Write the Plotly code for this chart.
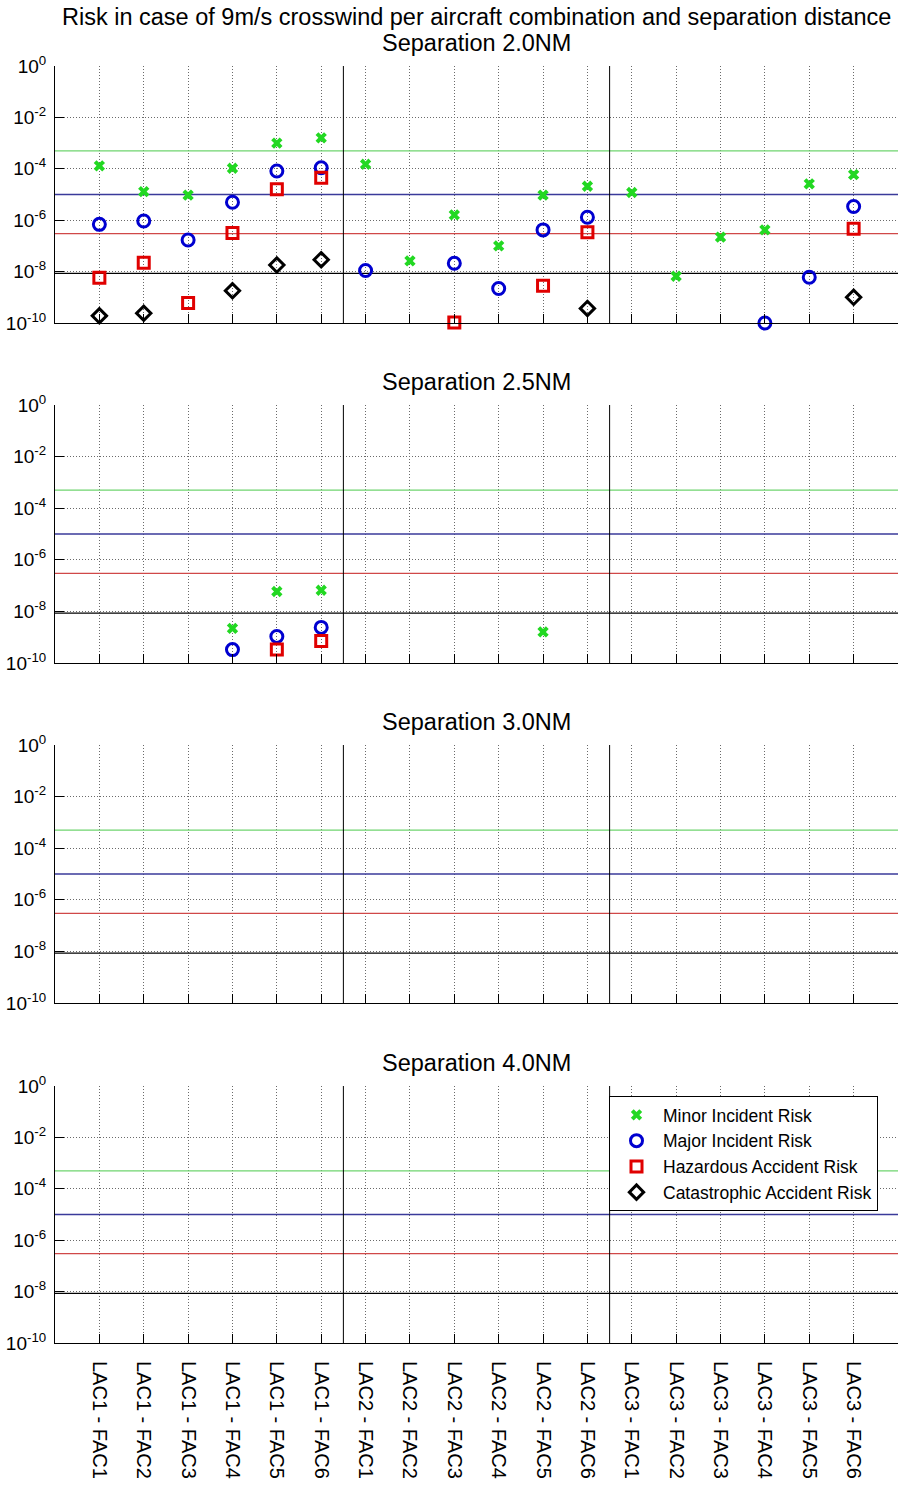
import plotly.graph_objects as go

categories = ["LAC1 - FAC1", "LAC1 - FAC2", "LAC1 - FAC3", "LAC1 - FAC4", "LAC1 - FAC5", "LAC1 - FAC6",
              "LAC2 - FAC1", "LAC2 - FAC2", "LAC2 - FAC3", "LAC2 - FAC4", "LAC2 - FAC5", "LAC2 - FAC6",
              "LAC3 - FAC1", "LAC3 - FAC2", "LAC3 - FAC3", "LAC3 - FAC4", "LAC3 - FAC5", "LAC3 - FAC6"]
positions = list(range(1, 19))
panel_titles = ["Separation 2.0NM", "Separation 2.5NM", "Separation 3.0NM", "Separation 4.0NM"]
main_title = "Risk in case of 9m/s crosswind per aircraft combination and separation distance"

series_names = ["Minor Incident Risk", "Major Incident Risk", "Hazardous Accident Risk", "Catastrophic Accident Risk"]

# Separation 2.0NM
minor_20 = [1.3e-4, 1.3e-5, 9.5e-6, 1.05e-4, 1.0e-3, 1.6e-3, 1.5e-4, 2.6e-8, 1.6e-6, 1.0e-7, 9.5e-6, 2.1e-5,
            1.2e-5, 6.6e-9, 2.2e-7, 4.2e-7, 2.6e-5, 5.9e-5]
major_20 = [6.9e-7, 9.3e-7, 1.7e-7, 5.0e-6, 8.2e-5, 1.1e-4, 1.1e-8, None, 2.1e-8, 2.2e-9, 4.2e-7, 1.3e-6,
            None, None, None, 1.0e-10, 6.0e-9, 3.4e-6]
hazardous_20 = [5.8e-9, 2.2e-8, 6.0e-10, 3.2e-7, 1.6e-5, 4.5e-5, None, None, 1.05e-10, None, 2.8e-9, 3.4e-7,
                None, None, None, None, None, 4.7e-7]
catastrophic_20 = [1.9e-10, 2.4e-10, None, 1.8e-9, 1.8e-8, 2.9e-8, None, None, None, None, None, 3.7e-10,
                   None, None, None, None, None, 1.0e-9]

# Separation 2.5NM
minor_25 = [None, None, None, 2.2e-9, 5.9e-8, 6.6e-8, None, None, None, None, 1.6e-9, None,
            None, None, None, None, None, None]
major_25 = [None, None, None, 3.3e-10, 1.07e-9, 2.4e-9, None, None, None, None, None, None,
            None, None, None, None, None, None]
hazardous_25 = [None, None, None, None, 3.3e-10, 7.1e-10, None, None, None, None, None, None,
                None, None, None, None, None, None]
catastrophic_25 = [None] * 18

# Separation 3.0NM and 4.0NM: no points visible
empty = [None] * 18

panel_data = [
    [minor_20, major_20, hazardous_20, catastrophic_20],
    [minor_25, major_25, hazardous_25, catastrophic_25],
    [empty, empty, empty, empty],
    [empty, empty, empty, empty],
]

thresholds = [5e-4, 1e-5, 3e-7, 8.5e-9]
threshold_colors = ["#6fd46f", "#3a3a9a", "#d04848", "#000000"]
group_dividers = [6.5, 12.5]
y_limits = [1e-10, 1e0]
x_limits = [0, 19]

marker_styles = [
    dict(symbol="x", color="#22d822", size=10, line=dict(width=0)),
    dict(symbol="circle-open", color="#0000d0", size=12, line=dict(width=3, color="#0000d0")),
    dict(symbol="square-open", color="#e00000", size=11, line=dict(width=3, color="#e00000")),
    dict(symbol="diamond-open", color="#000000", size=11, line=dict(width=3, color="#000000")),
]

FONT = "Liberation Sans, Arial, sans-serif"
W, H = 899, 1485
ml, mr = 55, 1
mt, mb = 66, 142
plot_w = W - ml - mr
plot_h = H - mt - mb
panel_px = [(66, 323), (405, 663), (745, 1003), (1086, 1343)]
domains = [((H - mb - b) / plot_h, (H - mb - t) / plot_h) for (t, b) in panel_px]
domains = [(max(0, d0), min(1, d1)) for d0, d1 in domains]

fig = go.Figure()
ytickvals = [10.0 ** e for e in range(-10, 1, 2)]
yticktext = ["10<sup>%d</sup>" % e for e in range(-10, 1, 2)]
GRID = dict(showgrid=True, gridcolor="#6a6a6a", griddash="1px,2px", gridwidth=1)

for i in range(4):
    xa = "x" if i == 0 else "x%d" % (i + 1)
    ya = "y" if i == 0 else "y%d" % (i + 1)
    for thr, col in zip(thresholds, threshold_colors):
        fig.add_trace(go.Scatter(x=x_limits, y=[thr, thr], mode="lines",
                                 line=dict(color=col, width=1.3), showlegend=False,
                                 hoverinfo="skip", xaxis=xa, yaxis=ya))
    for gx in group_dividers:
        fig.add_trace(go.Scatter(x=[gx, gx], y=y_limits, mode="lines",
                                 line=dict(color="#000000", width=1), showlegend=False,
                                 hoverinfo="skip", xaxis=xa, yaxis=ya))
    for k, (name, vals) in enumerate(zip(series_names, panel_data[i])):
        fig.add_trace(go.Scatter(x=positions, y=vals, mode="markers", name=name,
                                 marker=marker_styles[k], showlegend=(i == 0),
                                 cliponaxis=False, xaxis=xa, yaxis=ya))

    axkey = "" if i == 0 else str(i + 1)
    fig.layout["xaxis" + axkey] = dict(
        domain=[0, 1], anchor=ya, range=x_limits, tickmode="array",
        tickvals=positions, ticktext=categories, showticklabels=(i == 3),
        tickangle=90, ticks="inside", ticklen=9, tickcolor="#000", tickwidth=1,
        showline=True, linecolor="#000", linewidth=1, zeroline=False, automargin=False,
        tickfont=dict(family=FONT, size=20, color="#000"), ticklabelstandoff=13, **GRID,
    )
    fig.layout["yaxis" + axkey] = dict(
        domain=list(domains[i]), anchor=xa, type="log", range=[-10, 0],
        tickmode="array", tickvals=ytickvals, ticktext=yticktext,
        ticks="inside", ticklen=9, tickcolor="#000", tickwidth=1,
        showline=True, linecolor="#000", linewidth=1, zeroline=False, automargin=False,
        tickfont=dict(family=FONT, size=19, color="#000"), ticklabelstandoff=4, **GRID,
    )
    fig.add_annotation(text=panel_titles[i], xref="paper", yref="paper", x=0.5,
                       y=domains[i][1], yanchor="middle", yshift=23, showarrow=False,
                       font=dict(family=FONT, size=23.5, color="#000"))

fig.add_annotation(text=main_title, xref="paper", yref="paper", x=0.5, y=1,
                   yanchor="middle", yshift=49, showarrow=False,
                   font=dict(family=FONT, size=23.5, color="#000"))

fig.update_layout(
    width=W, height=H, margin=dict(l=ml, r=mr, t=mt, b=mb, autoexpand=False),
    paper_bgcolor="white", plot_bgcolor="white",
    legend=dict(x=(609 - ml) / plot_w, y=(1343 - 1096) / plot_h, xanchor="left", yanchor="top",
                bgcolor="white", bordercolor="#000", borderwidth=1, itemwidth=43,
                font=dict(family=FONT, size=17.5, color="#000"), tracegroupgap=0),
    showlegend=True,
)

fig.write_html("out.html", config={"displayModeBar": False},
               post_script="document.body.style.margin='0';document.body.style.overflow='hidden';")
